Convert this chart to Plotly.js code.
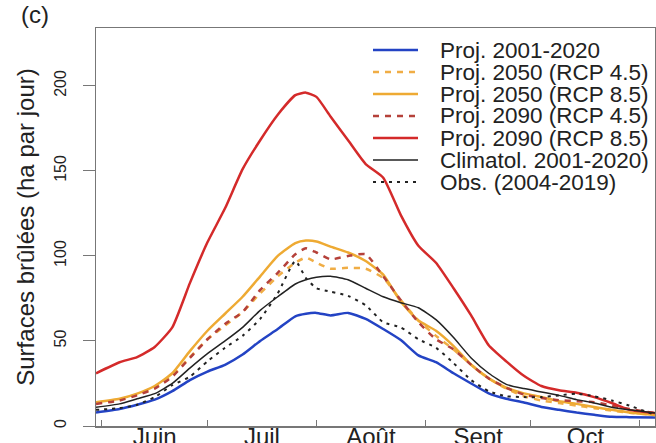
<!DOCTYPE html>
<html><head><meta charset="utf-8">
<script src="https://cdn.plot.ly/plotly-3.0.1.min.js"></script>
<style>html,body{margin:0;padding:0;background:#fff;}#chart{width:656px;height:443px;}</style>
</head><body><div id="chart"></div>
<script>
// Day index from 1 June (0) to early November
const days = [-1.7, 5, 10, 15, 20, 25, 30, 35, 40, 45, 50, 55, 58, 61, 65, 70, 75, 80, 85, 90, 95, 100, 105, 110, 115, 120, 125, 130, 135, 140, 145, 150, 157.3];

const proj2001_2020 = [8,10,12.5,15.5,20.5,27,32,36,42,50,57,64.5,66,66.5,65,66.5,63,57,50.5,41.5,37.5,31,25,19.2,16,13.8,11.2,9.5,7.9,6.6,5.4,5.2,5];
const proj2050_rcp45 = [13.5,15.5,18.5,22.5,29.5,40.5,51,59,67,78,88,96,99,96,92.5,93,92.5,87,74,62,53,45,36,28,22,17.5,15,13.5,12,10.5,9,7.8,6.5];
const proj2050_rcp85 = [14,16,19,23.5,31,44,56,66,76,88,100,107.5,109,108.5,105.5,102,97,89,73,62,56,47,36,28,22.5,19.2,17,14.5,13,11.2,9.5,8,6.5];
const proj2090_rcp45 = [13,15,18,22,29,40,51,60,67,80,90,101,104.5,102,98,100,101,88,74,61,51,45,36,28,22.5,18.5,16.5,15.2,14.6,14,12,10,7.6];
const proj2090_rcp85 = [31,37.5,40.5,46.5,58,84,108,128,151,168,183,194.5,196,193.5,182,168,154,146,124,106,96,81,65,47.5,38,29.5,23.5,21,19.6,17,13.5,9.5,7.6];
const climatol2001_2020 = [11,13,16,19,25,34,42.5,50,58,68,76,83.5,86,87.5,88,86,81,76,72.5,69.5,62.5,52,40,31,24.5,22,20,18,15.5,13.5,11,9.5,7.6];
const obs2004_2019 = [9.5,10.5,12.5,17,24,29,38,46,53,63,78,97,87,81,79,76.5,71,61,58,51,46,37,27,20.5,17.5,17,17,18,19,17.5,15,12,6.5];

const seriesNames = ['Proj. 2001-2020','Proj. 2050 (RCP 4.5)','Proj. 2050 (RCP 8.5)','Proj. 2090 (RCP 4.5)','Proj. 2090 (RCP 8.5)','Climatol. 2001-2020)','Obs. (2004-2019)'];
const seriesValues = [proj2001_2020, proj2050_rcp45, proj2050_rcp85, proj2090_rcp45, proj2090_rcp85, climatol2001_2020, obs2004_2019];

const monthLabels = ['Juin','Juil','Août','Sept','Oct'];
const monthMid = [15, 45.5, 76.5, 107, 137.5];
const monthBounds = [0, 30, 61, 92, 122, 153];
const yTicks = [0, 50, 100, 150, 200];

// styles
const colors = ['#2343c4','#f0ad45','#eeaa33','#b5413a','#d42a2a','#222222','#222222'];
const dashes = ['solid','6px,6px','solid','6px,6px','solid','solid','3px,5px'];
const widths = [2.5,2.5,2.5,2.5,2.5,1.5,2];

const traces = seriesValues.map((v, i) => ({
  x: days, y: v, type: 'scatter', mode: 'lines', name: seriesNames[i],
  line: {color: colors[i], width: widths[i], dash: dashes[i], shape: 'spline', smoothing: 0.5},
  showlegend: false, hoverinfo: 'skip'
}));

// plot area in px: x 96..655, y 28..426
const L = 96, R = 655, T = 28, B = 426;
const px2x = p => (p - L) / (R - L);
const py2y = p => (B - p) / (B - T);

const shapes = [];
const annotations = [];
seriesNames.forEach((n, i) => {
  const yp = py2y(50 + 22 * i);
  shapes.push({type: 'line', xref: 'paper', yref: 'paper', x0: px2x(373), x1: px2x(418), y0: yp, y1: yp,
    line: {color: colors[i], width: widths[i], dash: dashes[i]}});
  annotations.push({xref: 'paper', yref: 'paper', x: px2x(438), y: yp, xanchor: 'left', yanchor: 'middle',
    text: n, showarrow: false, font: {size: 22.5, color: '#222'}});
});
annotations.push({xref: 'paper', yref: 'paper', x: px2x(35), y: py2y(15), xanchor: 'center', yanchor: 'middle',
  text: '(c)', showarrow: false, font: {size: 24, color: '#222'}});

const layout = {
  width: 656, height: 443,
  margin: {l: 96, r: 1, t: 28, b: 17},
  paper_bgcolor: '#fff', plot_bgcolor: '#fff',
  font: {family: 'Liberation Sans, Arial, sans-serif', color: '#222'},
  showlegend: false,
  xaxis: {
    range: [-1.7, 157.3], tickmode: 'array', tickvals: monthMid, ticktext: monthLabels,
    ticks: '', tickfont: {size: 24}, ticklabelstandoff: -11,
    showline: true, mirror: true, linecolor: '#777', linewidth: 1.5,
    showgrid: false, zeroline: false,
    minor: {tickmode: 'array', tickvals: monthBounds, ticks: 'inside', ticklen: 6, tickcolor: '#777', tickwidth: 1, showgrid: false}
  },
  yaxis: {
    range: [0, 234], tickmode: 'array', tickvals: yTicks,
    ticks: 'outside', ticklen: 12, tickcolor: '#777', tickwidth: 1,
    tickangle: -90, tickfont: {size: 16}, ticklabelstandoff: 10,
    showline: true, mirror: true, linecolor: '#777', linewidth: 1.5,
    showgrid: false, zeroline: false,
    title: {text: 'Surfaces brûlées (ha par jour)', font: {size: 24}, standoff: 10}
  },
  shapes: shapes,
  annotations: annotations
};

Plotly.newPlot('chart', traces, layout, {staticPlot: true, displayModeBar: false});
</script>
</body></html>
